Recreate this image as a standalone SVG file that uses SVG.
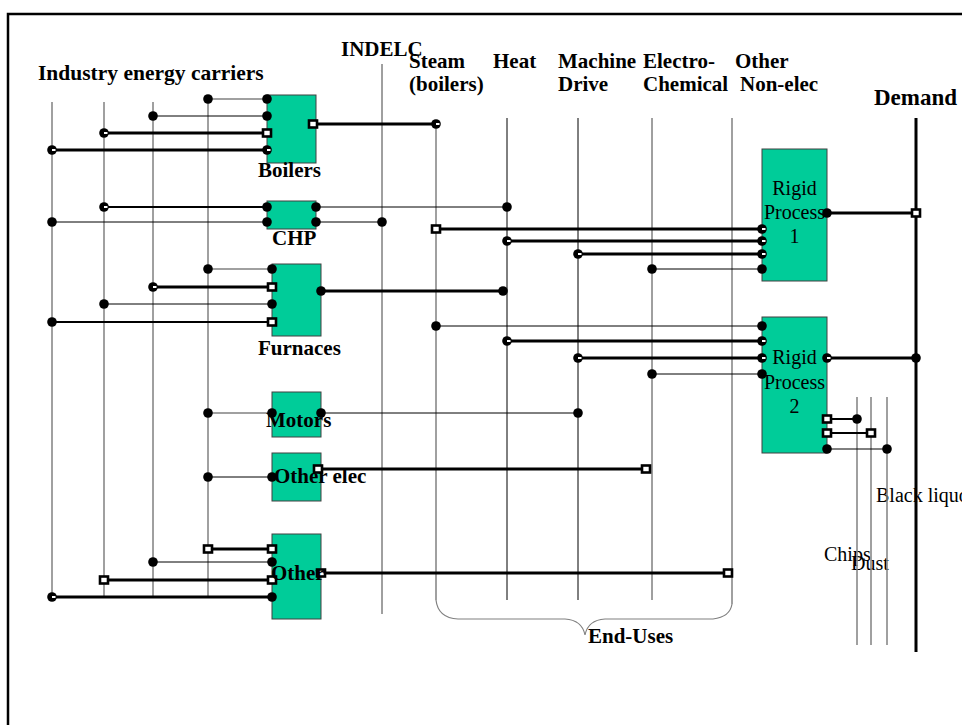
<svg xmlns="http://www.w3.org/2000/svg" width="962" height="725" viewBox="0 0 962 725">
<style>
.bg{fill:#fff}
.frame{fill:none;stroke:#000;stroke-width:2.5}
.bus{stroke:#808080;stroke-width:1.5;fill:none}
.busk{stroke:#000;stroke-width:1;fill:none}
.busd{stroke:#404040;stroke-width:1;fill:none}
.dem{stroke:#000;stroke-width:3;fill:none}
.box{fill:#00CC99;stroke:#404040;stroke-width:1}
.hd{font-family:"Liberation Serif","Times New Roman",serif;font-weight:bold;font-size:21px;fill:#000}
.lb{font-family:"Liberation Serif","Times New Roman",serif;font-size:20px;fill:#000}
.thick{stroke:#000;stroke-width:3;fill:none}
.med{stroke:#000;stroke-width:2;fill:none}
.thin{stroke:#000;stroke-width:1;fill:none}
.gray{stroke:#808080;stroke-width:1.5;fill:none}
.brace{stroke:#808080;stroke-width:1.2;fill:none}
</style>
<defs>
<marker id="dot" markerWidth="10" markerHeight="10" refX="5" refY="5" markerUnits="userSpaceOnUse" overflow="visible"><circle cx="5" cy="5" r="4.8" fill="#000"/></marker>
<marker id="odot" markerWidth="10" markerHeight="10" refX="5" refY="5" markerUnits="userSpaceOnUse" overflow="visible"><circle cx="5" cy="5" r="4.8" fill="#000"/><rect x="5" y="4" width="3.5" height="2" fill="#fff"/></marker>
<marker id="sq" markerWidth="10" markerHeight="10" refX="5" refY="5" markerUnits="userSpaceOnUse" overflow="visible"><rect x="1" y="1.5" width="8" height="7" fill="#fff" stroke="#000" stroke-width="2.6"/></marker>
</defs>
<rect class="bg" x="0" y="0" width="962" height="725"/>
<path class="frame" d="M8,725 V14 H962"/>

<g id="headers">
<text class="hd" x="38" y="80" style="font-size:21.5px">Industry energy carriers</text>
<text class="hd" x="341" y="56">INDELC</text>
<text class="hd" x="409" y="68">Steam</text>
<text class="hd" x="409" y="91">(boilers)</text>
<text class="hd" x="493" y="68">Heat</text>
<text class="hd" x="558" y="68">Machine</text>
<text class="hd" x="558" y="91">Drive</text>
<text class="hd" x="643" y="68">Electro-</text>
<text class="hd" x="643" y="91">Chemical</text>
<text class="hd" x="735" y="68">Other</text>
<text class="hd" x="740" y="91">Non-elec</text>
<text class="hd" x="874" y="105" style="font-size:23px">Demand</text>
<text class="hd" x="588" y="643">End-Uses</text>
<text class="lb" x="876" y="502">Black liquor</text>
<text class="lb" x="824" y="561">Chips</text>
<text class="lb" x="851" y="570">Dust</text>
</g>

<g id="buses">
<line class="bus" x1="52" y1="102" x2="52" y2="598"/>
<line class="bus" x1="104" y1="102" x2="104" y2="598"/>
<line class="busd" x1="153" y1="102" x2="153" y2="598"/>
<line class="bus" x1="208" y1="96" x2="208" y2="598"/>
<line class="busd" x1="382" y1="64" x2="382" y2="614"/>
<line class="bus" x1="436" y1="124" x2="436" y2="600"/>
<line class="busk" x1="507" y1="118" x2="507" y2="600"/>
<line class="busk" x1="578" y1="118" x2="578" y2="600"/>
<line class="busd" x1="652" y1="118" x2="652" y2="600"/>
<line class="bus" x1="732" y1="118" x2="732" y2="604"/>
<line class="dem" x1="916" y1="118" x2="916" y2="652"/>
<line class="bus" x1="857" y1="397" x2="857" y2="645"/>
<line class="bus" x1="871" y1="397" x2="871" y2="645"/>
<line class="bus" x1="887" y1="397" x2="887" y2="645"/>
<path class="brace" d="M436,600 Q438,618 458,619 L565,619 Q582,620 585,635 Q588,620 605,619 L713,619 Q730,617 732,604"/>
</g>

<g id="boilers">
<rect class="box" x="267" y="95" width="49" height="68"/>
<text class="hd" x="258" y="177">Boilers</text>
</g>
<g id="chp">
<rect class="box" x="267" y="201" width="49" height="28"/>
<text class="hd" x="272" y="245">CHP</text>
</g>
<g id="furnaces">
<rect class="box" x="272" y="264" width="49" height="72"/>
<text class="hd" x="258" y="355">Furnaces</text>
</g>
<g id="motors">
<rect class="box" x="272" y="392" width="49" height="45"/>
</g>
<g id="other-elec">
<rect class="box" x="272" y="453" width="49" height="48"/>
</g>
<g id="other">
<rect class="box" x="272" y="534" width="49" height="85"/>
</g>
<g id="rigid1">
<rect class="box" x="762" y="149" width="65" height="132"/>
<text class="lb" x="794.5" y="195" text-anchor="middle">Rigid</text>
<text class="lb" x="794.5" y="219" text-anchor="middle">Process</text>
<text class="lb" x="794.5" y="243" text-anchor="middle">1</text>
</g>
<g id="rigid2">
<rect class="box" x="762" y="317" width="65" height="136"/>
<text class="lb" x="794.5" y="364" text-anchor="middle">Rigid</text>
<text class="lb" x="794.5" y="389" text-anchor="middle">Process</text>
<text class="lb" x="794.5" y="413" text-anchor="middle">2</text>
</g>

<g id="connectors">
<line class="gray" x1="208" y1="99" x2="267" y2="99" marker-start="url(#dot)" marker-end="url(#dot)"/>
<line class="thin" x1="153" y1="116" x2="267" y2="116" marker-start="url(#dot)" marker-end="url(#dot)"/>
<line class="thick" x1="104" y1="133" x2="267" y2="133" marker-start="url(#odot)" marker-end="url(#sq)"/>
<line class="thick" x1="52" y1="150" x2="267" y2="150" marker-start="url(#odot)" marker-end="url(#odot)"/>
<line class="thick" x1="313" y1="124" x2="436" y2="124" marker-start="url(#sq)" marker-end="url(#odot)"/>

<line class="med" x1="104" y1="207" x2="267" y2="207" marker-start="url(#odot)" marker-end="url(#dot)"/>
<line class="thin" x1="52" y1="222" x2="267" y2="222" marker-start="url(#dot)" marker-end="url(#dot)"/>
<line class="thin" x1="316" y1="207" x2="507" y2="207" marker-start="url(#dot)" marker-end="url(#dot)"/>
<line class="thin" x1="316" y1="222" x2="382" y2="222" marker-start="url(#dot)" marker-end="url(#dot)"/>

<line class="gray" x1="208" y1="269" x2="272" y2="269" marker-start="url(#dot)" marker-end="url(#dot)"/>
<line class="thick" x1="153" y1="287" x2="272" y2="287" marker-start="url(#odot)" marker-end="url(#sq)"/>
<line class="thin" x1="104" y1="304" x2="272" y2="304" marker-start="url(#dot)" marker-end="url(#dot)"/>
<line class="med" x1="52" y1="322" x2="272" y2="322" marker-start="url(#dot)" marker-end="url(#sq)"/>
<line class="thick" x1="321" y1="291" x2="503" y2="291" marker-start="url(#dot)" marker-end="url(#dot)"/>

<line class="gray" x1="208" y1="413" x2="272" y2="413" marker-start="url(#dot)" marker-end="url(#dot)"/>
<line class="thin" x1="321" y1="413" x2="578" y2="413" marker-start="url(#dot)" marker-end="url(#dot)"/>

<line class="thin" x1="208" y1="477" x2="272" y2="477" marker-start="url(#dot)" marker-end="url(#dot)"/>
<line class="thick" x1="318" y1="469" x2="646" y2="469" marker-start="url(#sq)" marker-end="url(#sq)"/>

<line class="thick" x1="208" y1="549" x2="272" y2="549" marker-start="url(#sq)" marker-end="url(#sq)"/>
<line class="thin" x1="153" y1="562" x2="272" y2="562" marker-start="url(#dot)" marker-end="url(#dot)"/>
<line class="thick" x1="104" y1="580" x2="272" y2="580" marker-start="url(#sq)" marker-end="url(#sq)"/>
<line class="thick" x1="52" y1="597" x2="272" y2="597" marker-start="url(#odot)" marker-end="url(#dot)"/>
<line class="thick" x1="321" y1="573" x2="728" y2="573" marker-start="url(#sq)" marker-end="url(#sq)"/>

<line class="thick" x1="436" y1="229" x2="762" y2="229" marker-start="url(#sq)" marker-end="url(#odot)"/>
<line class="thick" x1="507" y1="241" x2="762" y2="241" marker-start="url(#odot)" marker-end="url(#odot)"/>
<line class="thick" x1="578" y1="254" x2="762" y2="254" marker-start="url(#odot)" marker-end="url(#odot)"/>
<line class="thin" x1="652" y1="269" x2="762" y2="269" marker-start="url(#dot)" marker-end="url(#dot)"/>
<line class="thick" x1="827" y1="213" x2="916" y2="213" marker-start="url(#dot)" marker-end="url(#sq)"/>

<line class="thin" x1="436" y1="326" x2="762" y2="326" marker-start="url(#dot)" marker-end="url(#dot)"/>
<line class="thick" x1="507" y1="341" x2="762" y2="341" marker-start="url(#odot)" marker-end="url(#odot)"/>
<line class="thick" x1="578" y1="358" x2="762" y2="358" marker-start="url(#odot)" marker-end="url(#odot)"/>
<line class="thin" x1="652" y1="374" x2="762" y2="374" marker-start="url(#dot)" marker-end="url(#dot)"/>
<line class="thick" x1="827" y1="358" x2="916" y2="358" marker-start="url(#odot)" marker-end="url(#dot)"/>
<line class="med" x1="827" y1="419" x2="857" y2="419" marker-start="url(#sq)" marker-end="url(#dot)"/>
<line class="med" x1="827" y1="433" x2="871" y2="433" marker-start="url(#sq)" marker-end="url(#sq)"/>
<line class="thin" x1="827" y1="449" x2="887" y2="449" marker-start="url(#dot)" marker-end="url(#dot)"/>
</g>

<g id="box-labels">
<text class="hd" x="266" y="427">Motors</text>
<text class="hd" x="274" y="483">Other elec</text>
<text class="hd" x="271" y="580">Other</text>
</g>
</svg>
